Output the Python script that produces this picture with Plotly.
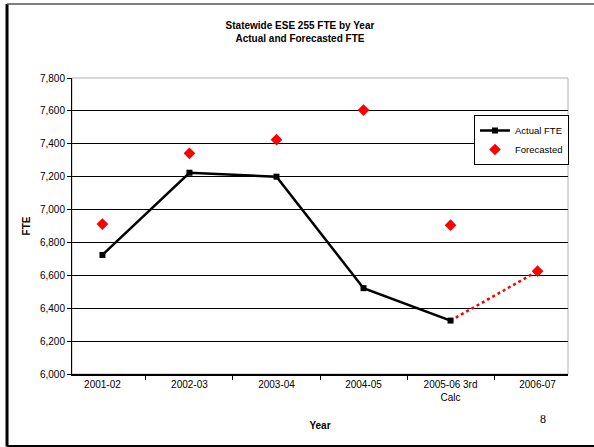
import plotly.graph_objects as go

# Data
years = ['2001-02', '2002-03', '2003-04', '2004-05', '2005-06 3rd<br>Calc', '2006-07']
actual_fte = [6724, 7224, 7200, 6522, 6325, None]
forecasted_fte = [6912, 7342, 7425, 7605, 6905, 6625]

FONT = 'Arial, Liberation Sans, sans-serif'

fig = go.Figure()

# Dotted link from last actual value to next forecast
fig.add_trace(go.Scatter(
    x=[years[4], years[5]], y=[actual_fte[4], forecasted_fte[5]],
    mode='lines', line=dict(color='#ff0000', width=2.5, dash='dot'),
    showlegend=False, hoverinfo='skip'
))

fig.add_trace(go.Scatter(
    x=years[:5], y=actual_fte[:5], name='Actual FTE',
    mode='lines+markers',
    line=dict(color='black', width=2.5),
    marker=dict(symbol='square', size=6, color='black')
))

fig.add_trace(go.Scatter(
    x=years, y=forecasted_fte, name='Forecasted',
    mode='markers',
    marker=dict(symbol='diamond', size=9, color='#ff0000')
))

# Slide-style frame around the chart
frame = [
    dict(x0=-0.131, x1=-0.131, y0=-0.245, y1=1.250, width=3, color='black'),
    dict(x0=-0.131, x1=1.1, y0=1.250, y1=1.250, width=1.5, color='#555555'),
    dict(x0=-0.131, x1=1.1, y0=-0.245, y1=-0.245, width=3, color='black'),
]
for f in frame:
    fig.add_shape(type='line', xref='paper', yref='paper',
                  x0=f['x0'], x1=f['x1'], y0=f['y0'], y1=f['y1'],
                  line=dict(color=f['color'], width=f['width']))

# Plot-area border in grey
fig.add_shape(type='rect', xref='paper', yref='paper', x0=0, x1=1, y0=0, y1=1,
              line=dict(color='#b0b0b0', width=1), layer='below')

# page number
fig.add_annotation(text='8', xref='paper', yref='paper', x=(543 - 72) / 496, y=(374 - 419) / 296,
                   xanchor='center', yanchor='middle', showarrow=False,
                   font=dict(family='Times New Roman, Liberation Serif, serif', size=12, color='black'))

fig.update_layout(
    width=594, height=447,
    margin=dict(l=72, r=26, t=78, b=73),
    paper_bgcolor='white', plot_bgcolor='white',
    font=dict(family=FONT, size=10, color='black'),
    title=dict(text='<b>Statewide ESE 255 FTE by Year<br>Actual and Forecasted FTE</b>',
               xref='container', x=0.505, xanchor='center',
               yref='container', y=1 - 29 / 447, yanchor='middle',
               font=dict(family=FONT, size=10, color='black')),
    legend=dict(x=(474 - 72) / 496, y=(374 - 115) / 296, xanchor='left', yanchor='top',
                bgcolor='white', bordercolor='black', borderwidth=1,
                font=dict(family=FONT, size=9.5, color='black'),
                tracegroupgap=0, itemwidth=30),
    showlegend=True,
)

fig.update_xaxes(
    type='category', categoryorder='array', categoryarray=years,
    tickson='boundaries', ticks='outside', ticklen=4, tickcolor='black',
    showline=True, linecolor='black', linewidth=1.5, showgrid=False,
    tickfont=dict(family=FONT, size=10, color='black'),
    title=dict(text='<b>Year</b>', standoff=20, font=dict(family=FONT, size=10, color='black')),
)

fig.update_yaxes(
    range=[6000, 7800], dtick=200, tickformat=',d',
    ticks='outside', ticklen=4, tickcolor='black',
    showline=True, linecolor='black', linewidth=1,
    showgrid=True, gridcolor='black', gridwidth=1, zeroline=False,
    tickfont=dict(family=FONT, size=10, color='black'),
    title=dict(text='<b>FTE</b>', standoff=7, font=dict(family=FONT, size=10, color='black')),
)

fig.write_html('out.html', config={'displayModeBar': False},
               post_script="document.body.style.margin='0';")
